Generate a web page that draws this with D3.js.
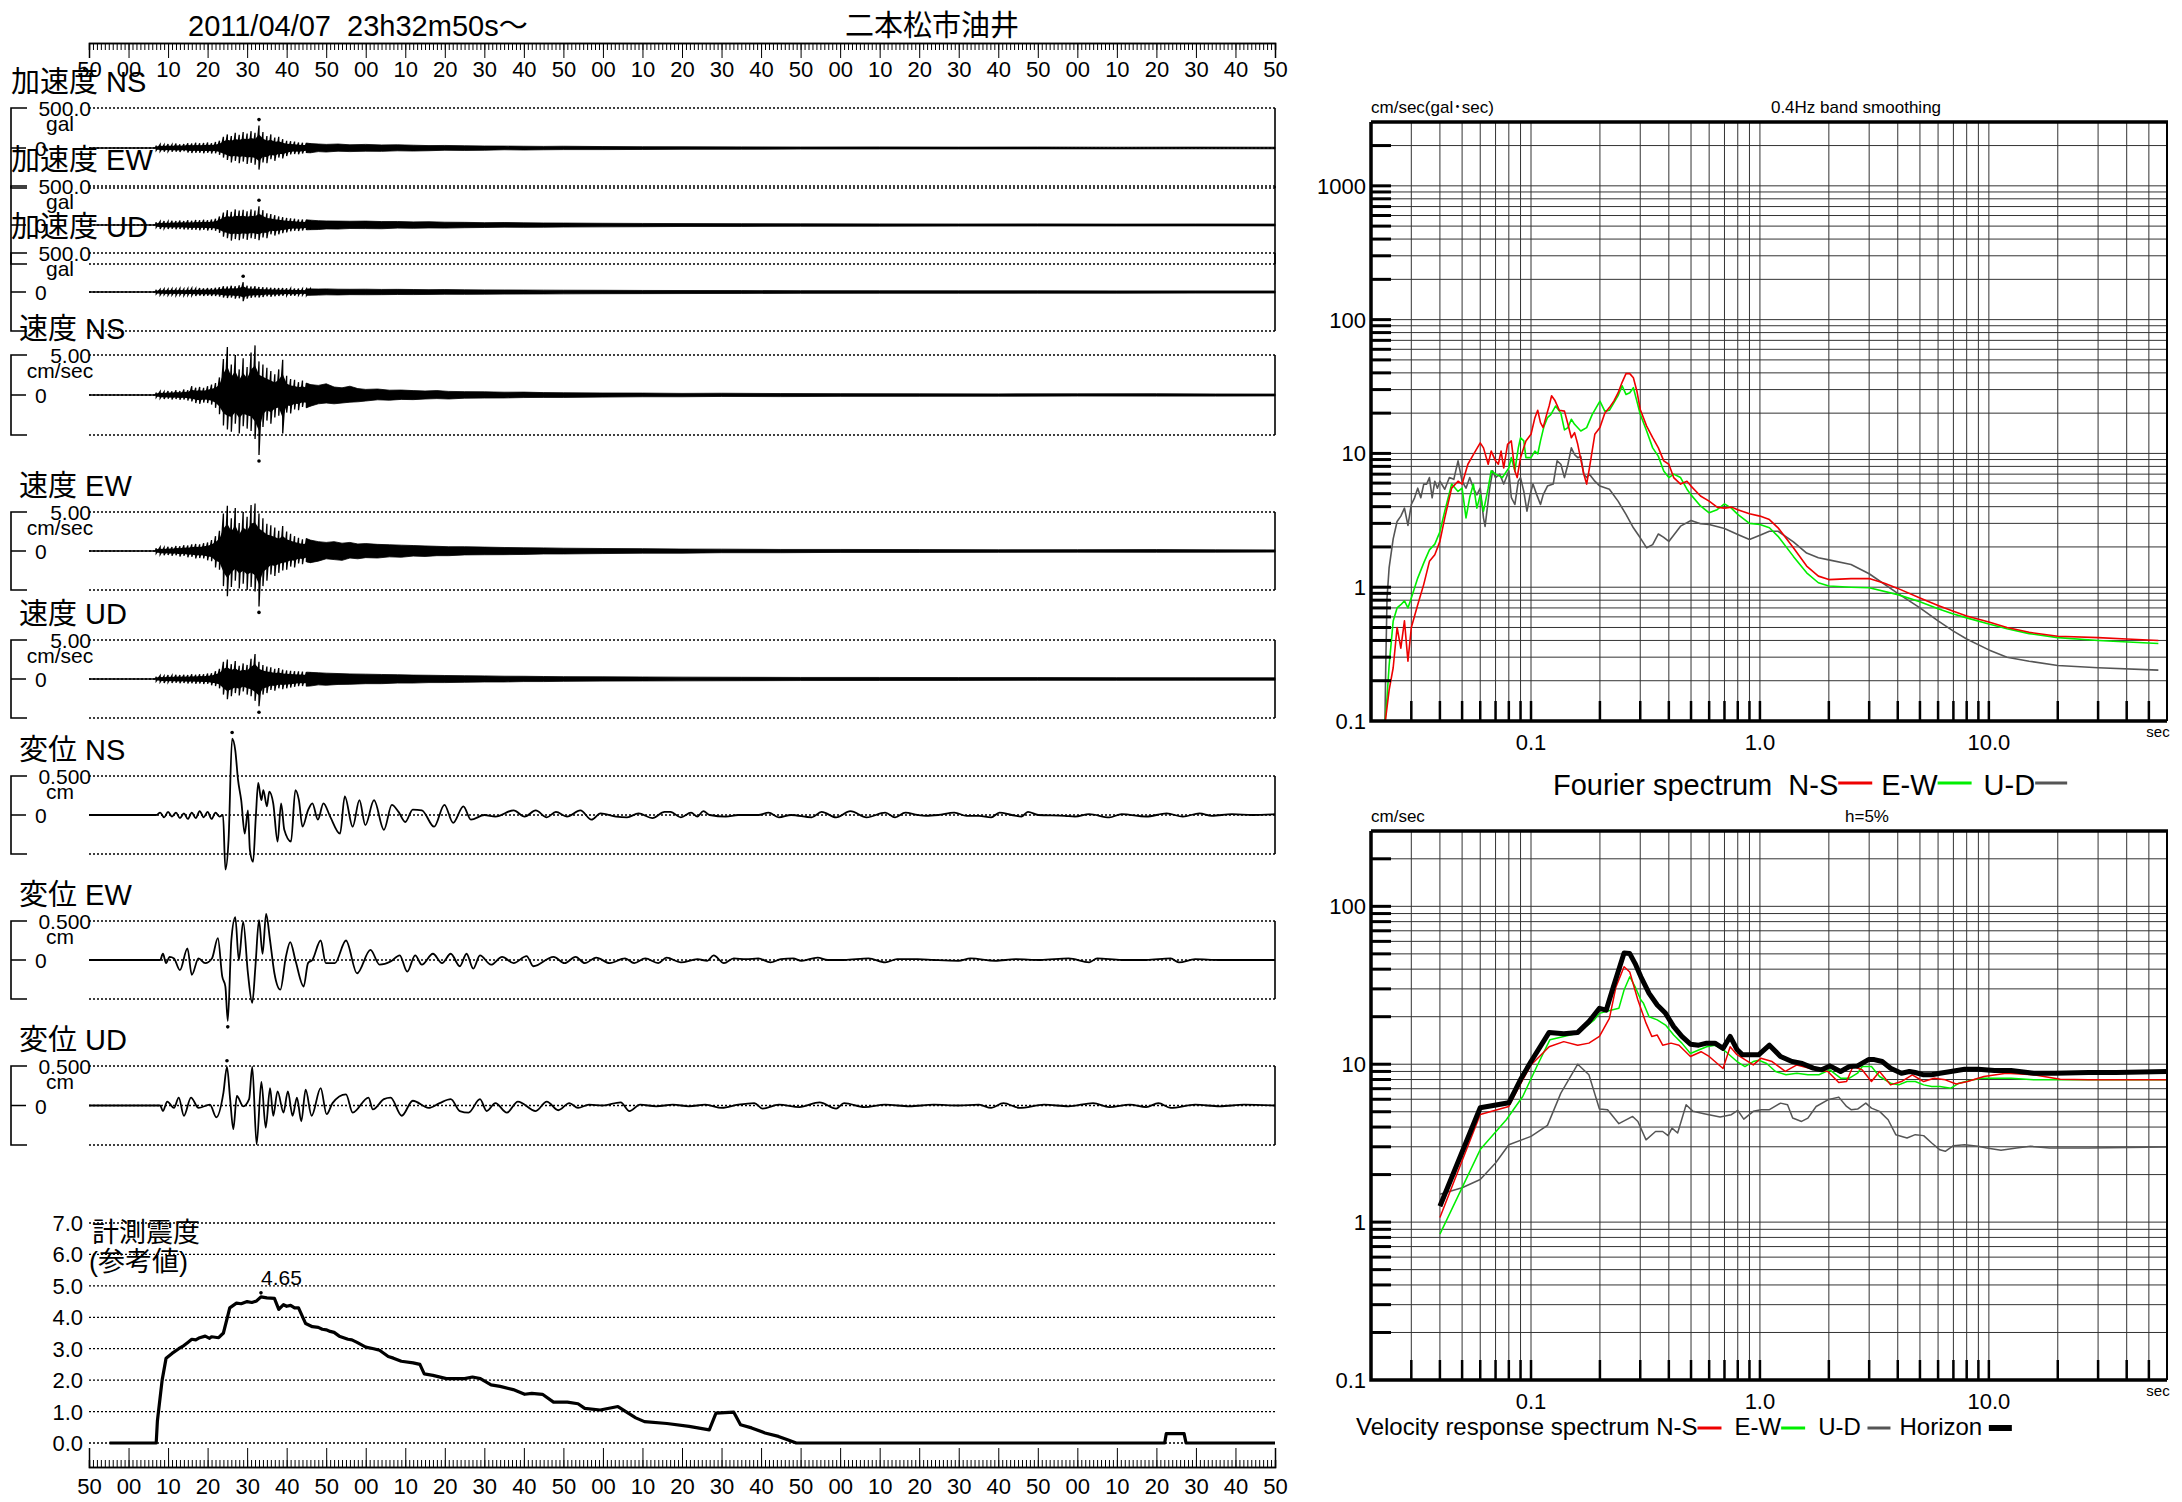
<!DOCTYPE html>
<html><head><meta charset="utf-8">
<script src="https://cdn.jsdelivr.net/npm/d3@7"></script>
<style>
html,body{margin:0;padding:0;background:#fff;}
svg text{font-family:"Liberation Sans",Arial,"Noto Sans CJK JP",sans-serif;fill:#000;white-space:pre;}
</style></head><body>
<svg id="chart" width="2182" height="1502"></svg>
<script>
// ---------------- DATA ----------------
const titleDate = "2011/04/07  23h32m50s\u301C";
const titleSite = "二本松市油井";
const timeTickValues = d3.range(0, 301, 10);
const timeTickLabels = ["50","00","10","20","30","40","50","00","10","20","30","40","50","00","10","20","30","40","50","00","10","20","30","40","50","00","10","20","30","40","50"];

// envelopes [t(sec), max, min]
const accNS = [[0,0,0],[16.8,0,0],[17,30,-30],[18,45,-40],[19,40,-45],[20,50,-42],[21,42,-48],[22,55,-45],[23,45,-50],[24,50,-40],[25,60,-55],[26,55,-62],[27,65,-58],[28,58,-60],[29,62,-65],[30,70,-60],[31,60,-68],[32,75,-65],[33,90,-85],[34,140,-120],[35,170,-150],[36,150,-180],[37,190,-160],[38,165,-190],[39,200,-170],[40,180,-200],[41,210,-185],[42,190,-210],[43,280,-270],[44,200,-180],[45,150,-190],[46,170,-140],[47,130,-160],[48,140,-120],[49,110,-130],[50,90,-100],[51,85,-80],[52,80,-75],[53,70,-78],[54,65,-70],[55,62,-58],[56,55,-60],[58,50,-45],[60,45,-50],[63,50,-40],[66,40,-45],[70,45,-40],[74,38,-42],[78,40,-35],[82,35,-38],[86,30,-34],[90,32,-28],[95,28,-30],[100,25,-28],[105,24,-22],[110,22,-25],[115,20,-22],[120,22,-20],[130,18,-20],[140,16,-18],[150,15,-16],[165,14,-15],[180,12,-13],[200,13,-12],[220,11,-12],[240,12,-11],[260,10,-11],[280,11,-10],[300,10,-10]];
const accEW = [[0,0,0],[16.8,0,0],[17,35,-30],[18,45,-50],[19,50,-45],[20,45,-52],[21,55,-48],[22,50,-55],[23,58,-50],[24,52,-56],[25,60,-58],[26,55,-62],[27,65,-60],[28,60,-66],[29,68,-60],[30,62,-70],[31,70,-65],[32,80,-75],[33,110,-100],[34,160,-150],[35,190,-170],[36,170,-200],[37,200,-180],[38,185,-195],[39,195,-175],[40,175,-190],[41,200,-170],[42,185,-180],[43,240,-195],[44,190,-160],[45,150,-170],[46,140,-120],[47,125,-135],[48,110,-120],[49,100,-105],[50,90,-95],[51,85,-80],[52,80,-75],[53,72,-78],[54,70,-72],[55,66,-62],[56,62,-60],[58,55,-58],[60,52,-50],[63,50,-52],[66,48,-45],[70,50,-46],[74,44,-48],[78,45,-40],[82,40,-42],[86,42,-38],[90,36,-40],[95,34,-35],[100,30,-32],[105,32,-28],[110,28,-30],[115,26,-28],[120,25,-26],[130,22,-24],[140,20,-22],[150,18,-19],[165,17,-18],[180,15,-16],[200,14,-15],[220,13,-14],[240,14,-13],[260,12,-13],[280,13,-12],[300,12,-12]];
const accUD = [[0,0,0],[16.8,0,0],[17,28,-25],[18,35,-38],[19,40,-35],[20,38,-42],[21,42,-38],[22,40,-44],[23,45,-40],[24,40,-45],[25,44,-42],[26,48,-45],[27,45,-50],[28,50,-46],[29,46,-50],[30,52,-48],[31,48,-52],[32,55,-50],[33,60,-58],[34,75,-70],[35,70,-78],[36,80,-72],[37,75,-85],[38,85,-80],[39,125,-118],[40,80,-85],[41,70,-75],[42,75,-68],[43,65,-70],[44,60,-65],[45,58,-55],[46,55,-60],[47,52,-55],[48,50,-52],[49,50,-48],[50,48,-45],[51,46,-48],[52,45,-48],[53,44,-42],[54,42,-40],[55,40,-43],[56,40,-42],[58,38,-40],[60,40,-36],[63,36,-38],[66,35,-34],[70,36,-35],[74,33,-34],[78,34,-32],[82,32,-33],[86,30,-31],[90,31,-29],[95,28,-30],[100,27,-28],[105,26,-27],[110,25,-26],[115,24,-25],[120,23,-24],[130,22,-22],[140,20,-21],[150,19,-20],[165,18,-18],[180,17,-17],[200,16,-16],[220,15,-16],[240,15,-15],[260,14,-15],[280,14,-14],[300,13,-13]];

const velNS = [[0,0,0],[16.8,0,0],[17,0.3,-0.3],[18,0.45,-0.4],[19,0.4,-0.5],[20,0.5,-0.45],[21,0.45,-0.55],[22,0.6,-0.5],[23,0.5,-0.6],[24,0.7,-0.55],[25,0.6,-0.7],[26,1.1,-0.8],[27,0.9,-1.0],[28,1.0,-1.1],[29,0.9,-0.95],[30,1.1,-1.0],[31,1.3,-1.2],[32,1.5,-1.6],[33,2.2,-2.4],[34,4.5,-3.8],[35,6.0,-4.3],[36,3.8,-4.6],[37,5.0,-3.6],[38,3.2,-4.8],[39,4.6,-3.9],[40,3.5,-4.2],[41,5.3,-4.5],[42,6.2,-5.5],[43,4.2,-7.5],[44,3.8,-4.0],[45,3.4,-3.2],[46,3.0,-3.6],[47,2.6,-2.8],[48,3.2,-2.6],[49,4.4,-4.8],[50,2.4,-2.2],[51,2.0,-2.3],[52,1.9,-1.8],[53,1.6,-1.9],[54,1.8,-1.5],[55,1.5,-1.6],[56,1.3,-1.4],[58,1.2,-1.1],[60,1.4,-1.0],[62,1.0,-1.1],[64,0.9,-1.0],[66,1.1,-0.9],[68,0.8,-0.85],[70,0.7,-0.75],[73,0.75,-0.6],[76,0.6,-0.65],[79,0.62,-0.55],[82,0.55,-0.58],[85,0.5,-0.5],[88,0.55,-0.45],[91,0.45,-0.5],[95,0.42,-0.4],[100,0.4,-0.38],[105,0.35,-0.37],[110,0.36,-0.32],[115,0.3,-0.3],[120,0.28,-0.3],[130,0.25,-0.26],[140,0.24,-0.22],[150,0.2,-0.22],[160,0.22,-0.18],[175,0.18,-0.2],[190,0.17,-0.17],[210,0.15,-0.16],[230,0.14,-0.15],[250,0.15,-0.13],[270,0.16,-0.14],[285,0.13,-0.14],[300,0.12,-0.12]];
const velEW = [[0,0,0],[16.8,0,0],[17,0.35,-0.3],[18,0.5,-0.45],[19,0.45,-0.55],[20,0.55,-0.5],[21,0.5,-0.6],[22,0.65,-0.55],[23,0.6,-0.7],[24,0.75,-0.6],[25,0.7,-0.8],[26,0.85,-0.75],[27,0.9,-0.95],[28,0.85,-0.9],[29,1.0,-0.95],[30,1.1,-1.2],[31,1.4,-1.3],[32,1.9,-2.1],[33,2.6,-2.4],[34,4.8,-4.5],[35,5.8,-5.8],[36,4.2,-4.6],[37,5.5,-3.8],[38,3.6,-4.8],[39,5.0,-4.2],[40,4.4,-5.0],[41,5.9,-4.6],[42,6.1,-5.2],[43,4.8,-7.1],[44,4.2,-4.5],[45,3.5,-3.8],[46,3.3,-3.0],[47,3.0,-3.2],[48,2.6,-2.8],[49,3.2,-2.5],[50,2.5,-2.4],[51,2.2,-2.0],[52,1.9,-2.1],[53,1.7,-1.6],[54,1.5,-1.7],[55,1.6,-1.4],[56,1.4,-1.5],[58,1.2,-1.3],[60,1.1,-1.0],[62,1.2,-1.1],[64,1.0,-1.2],[66,1.1,-0.9],[68,0.9,-1.0],[70,0.95,-0.85],[73,0.85,-0.9],[76,0.8,-0.75],[79,0.75,-0.8],[82,0.7,-0.65],[85,0.65,-0.7],[88,0.6,-0.6],[91,0.55,-0.6],[95,0.55,-0.5],[100,0.5,-0.48],[105,0.45,-0.47],[110,0.42,-0.44],[115,0.4,-0.38],[120,0.36,-0.38],[130,0.32,-0.33],[140,0.3,-0.28],[150,0.25,-0.28],[160,0.24,-0.22],[175,0.2,-0.22],[190,0.2,-0.18],[210,0.18,-0.18],[230,0.16,-0.17],[250,0.17,-0.15],[270,0.18,-0.16],[285,0.15,-0.15],[300,0.14,-0.14]];
const velUD = [[0,0,0],[16.8,0,0],[17,0.3,-0.28],[18,0.45,-0.4],[19,0.4,-0.5],[20,0.5,-0.42],[21,0.45,-0.5],[22,0.55,-0.48],[23,0.5,-0.55],[24,0.55,-0.5],[25,0.5,-0.58],[26,0.6,-0.55],[27,0.55,-0.6],[28,0.62,-0.58],[29,0.6,-0.65],[30,0.7,-0.62],[31,0.75,-0.8],[32,1.0,-0.9],[33,1.3,-1.2],[34,2.2,-2.0],[35,2.5,-2.6],[36,1.9,-2.2],[37,2.3,-1.8],[38,1.7,-2.1],[39,2.0,-1.6],[40,1.8,-2.0],[41,2.6,-2.2],[42,3.2,-2.8],[43,2.2,-3.5],[44,1.8,-2.0],[45,1.6,-1.8],[46,1.5,-1.4],[47,1.3,-1.5],[48,1.4,-1.2],[49,1.2,-1.3],[50,1.1,-1.2],[51,1.05,-1.1],[52,1.0,-1.0],[53,0.98,-0.92],[54,0.95,-0.9],[55,0.88,-0.92],[56,0.85,-0.9],[58,0.8,-0.75],[60,0.75,-0.8],[63,0.7,-0.7],[66,0.65,-0.68],[70,0.62,-0.6],[74,0.58,-0.6],[78,0.55,-0.52],[82,0.5,-0.52],[86,0.48,-0.46],[90,0.45,-0.46],[95,0.42,-0.42],[100,0.4,-0.38],[105,0.36,-0.38],[110,0.35,-0.33],[115,0.32,-0.33],[120,0.3,-0.3],[130,0.28,-0.27],[140,0.26,-0.25],[150,0.24,-0.24],[165,0.22,-0.22],[180,0.2,-0.2],[200,0.2,-0.19],[220,0.18,-0.18],[240,0.18,-0.17],[260,0.17,-0.17],[280,0.16,-0.16],[300,0.15,-0.15]];

// displacement [t(sec), cm]
const dispNS = [[0,0],[17,0],[18,0.03],[19,-0.03],[20,0.04],[21,-0.02],[22,0.03],[23,-0.04],[24,0.02],[25,-0.05],[26,0.03],[27,-0.04],[28,0.05],[29,-0.03],[30,0.04],[31,-0.05],[32,0.03],[33,-0.02],[33.9,0],[34.5,-0.70],[35.3,-0.32],[36.2,0.98],[37,0.83],[37.7,0.45],[38.5,0.19],[39.4,-0.24],[40.2,0.06],[40.7,-0.45],[41.5,-0.6],[42.2,-0.02],[42.8,0.41],[43.6,0.19],[44.1,0.32],[45,0.11],[45.6,0.3],[46.6,0.15],[47.7,-0.34],[48.6,0.15],[49.4,-0.19],[51.1,-0.34],[52.2,0.32],[53.1,0.19],[54,-0.15],[55.4,0.06],[56.5,0.15],[57.9,-0.06],[59.3,0.15],[61,-0.02],[63.5,-0.24],[64.7,0.24],[66.7,-0.15],[68.4,0.19],[69.9,-0.13],[72.1,0.19],[74.6,-0.19],[76.6,0.13],[78.3,0.04],[80,-0.09],[81.9,0.07],[84.2,0.06],[87.3,-0.15],[89.9,0.13],[92.1,-0.1],[94.7,0.11],[96.6,-0.06],[100,0],[102.8,-0.02],[107.4,0.06],[110.2,-0.02],[113,0.06],[115.8,-0.03],[118.1,0.04],[120.9,-0.02],[124.3,0.06],[127.1,-0.06],[129.4,0.02],[133.3,-0.02],[136.1,-0.03],[139,0.02],[142.5,-0.04],[145.6,0.04],[147.1,0.04],[149.7,-0.03],[152.3,0.03],[153.9,-0.02],[155.4,0.05],[157,0],[161.1,-0.02],[164.2,0],[169.3,0],[171.9,0.03],[174.5,-0.03],[177.6,0],[182.8,-0.03],[185.3,0.04],[189,-0.03],[192.6,0.05],[196.7,-0.03],[201.4,0.03],[203.9,-0.03],[206.5,0.03],[209.6,0],[211.7,-0.01],[214.8,0],[218.9,0.03],[222,-0.01],[225.1,-0.01],[228.2,-0.03],[230.3,0.03],[233.4,0],[235.9,-0.02],[237.5,0.04],[240.1,0],[246.8,-0.01],[249.4,-0.02],[253,0.01],[258.1,-0.03],[261.2,0.01],[267.4,-0.02],[272.6,0.02],[276.7,-0.02],[280.9,0.02],[284,-0.01],[289.1,0.01],[294.3,0],[300,0.01]];
const dispEW = [[0,0],[18,0],[18.7,0.08],[19.5,-0.04],[20.4,0.04],[21.5,0.02],[23,-0.13],[24.9,0.15],[26,-0.19],[27.7,0.02],[29.4,-0.04],[31.1,0.02],[32.6,0.28],[33.7,-0.21],[34.5,-0.34],[35.1,-0.78],[36,0.25],[37,0.55],[37.9,0],[39,0.49],[40.2,-0.17],[41.3,-0.55],[42.1,-0.08],[43,0.51],[43.9,0.08],[44.8,0.59],[45.8,0.25],[46.9,-0.17],[48.4,-0.38],[49.8,0.04],[50.9,0.23],[52.2,0],[54.3,-0.34],[55.4,-0.04],[56.5,0],[58.6,0.25],[59.9,-0.04],[62.2,-0.04],[65,0.25],[67.8,-0.17],[71.2,0.13],[73.5,-0.06],[76.3,-0.02],[78.6,0.06],[80.5,-0.15],[82.5,0.06],[84.2,-0.06],[87,0.08],[89.3,-0.04],[91.5,0.08],[93.8,-0.08],[95.5,0.08],[97.2,-0.11],[98.9,0.06],[101.7,-0.06],[104.5,0.04],[107.4,-0.04],[110.7,0.05],[112.4,-0.08],[117.5,0.04],[120.3,-0.04],[123.1,0.04],[125.4,-0.04],[128.3,0.03],[131.7,-0.04],[135.6,0.02],[137.9,-0.04],[140.7,0.02],[144,-0.04],[146.1,0.03],[149.7,-0.03],[153.9,0.01],[156.4,-0.01],[158,0.06],[160.6,-0.04],[163.1,0.02],[166.2,0.01],[169.3,0.02],[172.4,-0.03],[175,0.01],[178.1,0.02],[180.2,-0.01],[184.3,0.03],[186.9,0],[191,0],[197.2,0.02],[201.4,-0.03],[204.4,0.01],[209.6,0.01],[213.7,0],[219.9,-0.01],[223,0.02],[229.2,-0.01],[234.4,0.01],[240.6,0],[247.8,0.02],[253,-0.03],[255,0.02],[261.2,0],[267.4,0],[273.6,0.02],[275.7,-0.03],[279.8,0.01],[286,0],[292.2,0],[300,0]];
const dispUD = [[0,0],[18,0],[18.7,-0.07],[19.8,0.05],[21.5,-0.03],[22.7,0.1],[24,-0.13],[25.8,0.1],[27.7,-0.03],[30.6,0.01],[32.2,-0.15],[34,0.16],[34.9,0.49],[35.7,0.08],[36.5,-0.3],[37.4,0.12],[39,-0.01],[40.5,0.08],[41.3,0.49],[42.4,-0.49],[43.6,0.3],[44.7,-0.28],[45.8,0.22],[46.6,-0.13],[47.7,0.18],[49.2,-0.09],[50.3,0.18],[51.5,-0.13],[52.6,0.1],[53.7,-0.2],[54.8,0.2],[56.3,-0.13],[58.6,0.22],[60.1,-0.11],[61.6,0.03],[65,0.14],[66.7,-0.09],[70.7,0.1],[71.8,-0.05],[74.6,0.08],[76.3,0.1],[79.1,-0.13],[81.9,0.06],[85.9,-0.03],[88.7,0.03],[91.5,0.08],[93.8,-0.07],[96,-0.09],[98.9,0.08],[100.6,-0.07],[102.8,0.03],[105.7,-0.09],[108.5,0.05],[113,-0.07],[115.8,0.05],[118.7,-0.06],[121.5,0.03],[123.7,-0.03],[126.5,0.01],[129.9,0],[134.5,0.04],[136.7,-0.07],[139.4,0.01],[143.5,-0.01],[147.7,0.01],[151.8,-0.01],[155.9,0.01],[160.1,-0.03],[164.2,0.01],[168.3,0.03],[170.4,-0.04],[174.5,0.01],[179.7,-0.02],[184.8,0.04],[189,-0.04],[191,0.03],[196.2,-0.02],[201.4,0.01],[207.5,-0.01],[213.7,0.01],[219.9,0],[225.1,0.01],[228.2,-0.03],[231.3,0.03],[235.4,-0.03],[241.6,0.01],[247.8,-0.01],[254,0.03],[258.1,-0.02],[263.3,0.01],[267.4,-0.02],[270.5,0.03],[273.6,-0.03],[279.8,0.01],[286,-0.01],[292.2,0.01],[300,0]];

// instrumental seismic intensity [t(sec), value]
const intensity = [[5.2,0],[17.0,0],[17.3,0.7],[18.5,2.0],[19.5,2.7],[21,2.85],[22.7,3.0],[24,3.1],[25,3.2],[26,3.3],[27,3.28],[28,3.35],[29.4,3.4],[30.5,3.33],[31,3.38],[32.8,3.35],[34,3.5],[35,4.0],[35.6,4.3],[37.3,4.45],[38.5,4.43],[40,4.5],[41.2,4.47],[42.4,4.52],[43.5,4.65],[45,4.62],[46.9,4.6],[48,4.25],[49.2,4.4],[50,4.35],[51,4.38],[52,4.3],[53,4.3],[54.8,3.8],[56.5,3.7],[58,3.68],[59,3.62],[60,3.6],[61,3.55],[62,3.52],[63.3,3.4],[65.5,3.3],[66.5,3.28],[67.8,3.2],[70,3.05],[72,3.0],[73.5,2.95],[75.7,2.75],[77,2.7],[79,2.6],[82,2.55],[83.7,2.5],[84.8,2.2],[87,2.15],[90.4,2.05],[95,2.05],[97,2.1],[99,2.05],[101.7,1.85],[104,1.8],[107.3,1.7],[110.2,1.55],[112,1.58],[114.7,1.55],[117.5,1.3],[121,1.3],[123.7,1.25],[125.4,1.1],[129.3,1.05],[133.8,1.16],[138.3,0.8],[140.5,0.68],[146.2,0.62],[151.8,0.53],[156.9,0.42],[158.6,0.95],[163.1,0.98],[164.8,0.58],[167.6,0.48],[171,0.32],[174.4,0.21],[176.7,0.1],[178.9,0],[272.1,0],[272.5,0.3],[277,0.3],[277.5,0],[300,0]];
const intensityTickValues = [0,1,2,3,4,5,6,7];
const intensityTickLabels = ["0.0","1.0","2.0","3.0","4.0","5.0","6.0","7.0"];

// Fourier spectra [period(sec), cm/sec]
const fourierNS = [[0.023,0.094],[0.024,0.17],[0.025,0.25],[0.026,0.50],[0.027,0.35],[0.028,0.56],[0.029,0.28],[0.030,0.50],[0.032,0.74],[0.034,1.05],[0.036,1.56],[0.038,1.75],[0.040,2.2],[0.042,3.3],[0.045,5.5],[0.048,6.2],[0.050,5.9],[0.053,8.3],[0.056,9.8],[0.060,12],[0.062,11],[0.065,8.3],[0.067,10.4],[0.070,8.8],[0.072,8.3],[0.074,10.4],[0.076,7.8],[0.079,11.7],[0.082,12.4],[0.085,7.4],[0.087,6.6],[0.090,9.3],[0.095,12.4],[0.100,13.9],[0.104,18.5],[0.107,21],[0.110,17],[0.113,15.6],[0.117,19.5],[0.120,22.6],[0.123,27],[0.127,25],[0.133,21],[0.140,20.7],[0.145,16.5],[0.150,13.1],[0.155,14.3],[0.160,11.7],[0.170,7.0],[0.175,5.9],[0.180,7.8],[0.190,13.9],[0.200,15.6],[0.210,20],[0.220,22],[0.230,24.6],[0.240,28.3],[0.250,34],[0.260,39.5],[0.270,39.5],[0.280,36.8],[0.290,29.3],[0.300,21.3],[0.320,16],[0.340,13.1],[0.360,11],[0.380,8.8],[0.400,8.3],[0.420,6.6],[0.450,5.9],[0.480,6.2],[0.500,5.7],[0.550,4.8],[0.600,4.4],[0.650,3.97],[0.700,3.9],[0.750,3.97],[0.800,3.8],[0.900,3.54],[1.0,3.4],[1.1,3.2],[1.2,2.78],[1.4,1.97],[1.6,1.44],[1.8,1.21],[2.0,1.14],[2.5,1.16],[3.0,1.16],[3.5,1.07],[4,0.98],[5,0.83],[6,0.73],[7,0.66],[8,0.61],[10,0.55],[12,0.50],[15,0.46],[20,0.43],[30,0.42],[40,0.41],[55,0.40]];
const fourierEW = [[0.023,0.094],[0.0235,0.15],[0.024,0.26],[0.025,0.56],[0.026,0.70],[0.027,0.74],[0.028,0.79],[0.029,0.70],[0.030,0.83],[0.032,1.17],[0.034,1.52],[0.036,1.9],[0.038,2.1],[0.040,2.6],[0.042,3.7],[0.045,5.9],[0.048,5.2],[0.050,5.5],[0.052,3.3],[0.054,4.7],[0.056,5.9],[0.058,3.9],[0.060,4.9],[0.062,3.7],[0.065,5.5],[0.067,7.4],[0.070,7.0],[0.075,6.6],[0.080,7.8],[0.082,9.3],[0.085,7.4],[0.088,11],[0.090,13.1],[0.093,12.4],[0.095,9.3],[0.100,9.3],[0.104,10.4],[0.107,9.9],[0.110,12.4],[0.114,16],[0.118,18.5],[0.122,19.5],[0.128,22.6],[0.135,20],[0.140,15],[0.145,15.6],[0.150,18],[0.155,16.5],[0.165,14.7],[0.175,15.6],[0.185,19.5],[0.200,24.6],[0.210,20.7],[0.220,21],[0.230,23.9],[0.240,27],[0.250,32],[0.260,27.6],[0.270,28.4],[0.280,31],[0.290,24.6],[0.300,19.6],[0.320,14.7],[0.340,11],[0.360,9.5],[0.380,7.4],[0.400,6.6],[0.420,7.0],[0.450,6.6],[0.480,5.4],[0.500,4.9],[0.550,4.05],[0.600,3.6],[0.650,3.8],[0.700,4.2],[0.750,3.9],[0.800,3.5],[0.900,3.0],[1.0,2.94],[1.1,2.78],[1.2,2.4],[1.4,1.7],[1.6,1.28],[1.8,1.08],[2.0,1.02],[2.5,1.0],[3.0,0.99],[4,0.88],[5,0.78],[6,0.69],[7,0.63],[8,0.59],[10,0.53],[12,0.49],[15,0.45],[20,0.42],[30,0.40],[55,0.38]];
const fourierUD = [[0.023,0.094],[0.0232,0.26],[0.0235,0.83],[0.024,1.4],[0.025,2.3],[0.026,3.1],[0.027,3.4],[0.028,3.9],[0.029,2.9],[0.030,4.15],[0.031,4.66],[0.032,5.5],[0.033,4.66],[0.034,5.9],[0.035,5.9],[0.036,6.6],[0.037,4.66],[0.038,6.2],[0.039,5.5],[0.040,6.2],[0.042,5.4],[0.044,6.6],[0.046,6.4],[0.048,8.8],[0.050,6.2],[0.052,5.5],[0.054,6.6],[0.056,5.5],[0.058,4.9],[0.060,5.5],[0.062,3.3],[0.063,2.85],[0.066,5.5],[0.068,7.4],[0.070,6.6],[0.073,7.0],[0.076,5.9],[0.078,6.6],[0.080,7.4],[0.082,4.7],[0.085,4.15],[0.088,6.2],[0.090,6.6],[0.093,5.2],[0.096,3.7],[0.099,4.9],[0.102,5.9],[0.106,4.9],[0.110,4.15],[0.113,4.9],[0.118,5.7],[0.125,5.9],[0.130,8.8],[0.135,8.3],[0.140,6.6],[0.145,8.3],[0.150,11],[0.155,9.8],[0.160,9.3],[0.165,9.5],[0.170,7.0],[0.175,6.6],[0.180,7.0],[0.190,6.2],[0.200,5.7],[0.220,5.4],[0.240,4.4],[0.260,3.5],[0.280,2.78],[0.300,2.34],[0.320,1.97],[0.340,2.08],[0.360,2.5],[0.380,2.36],[0.400,2.2],[0.450,2.86],[0.500,3.15],[0.550,2.98],[0.600,2.94],[0.700,2.75],[0.800,2.48],[0.900,2.27],[1.0,2.45],[1.1,2.62],[1.2,2.62],[1.4,2.18],[1.6,1.8],[1.8,1.66],[2.0,1.6],[2.5,1.48],[3,1.26],[4,0.9],[5,0.7],[6,0.56],[7,0.47],[8,0.41],[10,0.34],[12,0.30],[15,0.28],[20,0.26],[30,0.25],[55,0.24]];

// velocity response spectra (h=5%) [period(sec), cm/sec]
const responseNS = [[0.04,1.07],[0.06,4.8],[0.08,5.4],[0.09,7.5],[0.1,9.9],[0.12,12.9],[0.139,13.9],[0.16,13.2],[0.179,13.6],[0.199,15.0],[0.22,19.5],[0.235,30.9],[0.255,41.4],[0.27,38.4],[0.293,25.5],[0.318,18.2],[0.337,15.0],[0.356,15.3],[0.376,13.2],[0.409,13.6],[0.443,13.2],[0.497,11.2],[0.553,12.0],[0.6,11.2],[0.69,9.4],[0.741,12.9],[0.794,11.5],[0.935,9.9],[1.01,10.9],[1.13,10.4],[1.29,9.0],[1.45,9.9],[1.71,9.3],[1.98,9.0],[2.21,7.66],[2.39,7.77],[2.55,9.7],[2.8,9.2],[3.07,7.77],[3.33,9.0],[3.72,7.4],[4.15,7.77],[4.63,8.57],[5.19,7.77],[5.77,8.16],[6.45,7.96],[7.2,7.5],[8.07,7.77],[9.52,8.36],[11.9,8.77],[15.7,8.57],[20.5,8.04],[27.3,7.96],[60,7.96]];
const responseEW = [[0.04,0.84],[0.06,2.88],[0.078,4.45],[0.092,6.25],[0.106,9.67],[0.121,14.3],[0.139,15.0],[0.16,15.7],[0.189,19.1],[0.199,21.0],[0.223,22.0],[0.242,22.6],[0.255,29.5],[0.27,35.8],[0.285,30.9],[0.302,25.5],[0.31,24.3],[0.328,20.0],[0.356,19.1],[0.387,17.7],[0.42,15.3],[0.456,13.6],[0.497,11.7],[0.54,12.3],[0.585,12.9],[0.636,13.2],[0.71,12.0],[0.794,10.4],[0.86,9.67],[0.935,10.4],[0.989,10.6],[1.07,10.1],[1.17,9.0],[1.30,8.57],[1.45,8.77],[1.62,8.57],[1.81,8.57],[2.02,9.21],[2.25,8.16],[2.46,8.16],[2.67,8.77],[2.8,9.67],[3.07,9.67],[3.33,8.36],[3.72,7.58],[4.04,7.4],[4.39,7.77],[4.77,7.77],[5.19,7.4],[5.63,7.23],[6.11,7.23],[6.82,7.05],[7.41,7.58],[8.27,7.88],[9.26,8.16],[10.6,8.16],[12.5,8.16],[15.7,7.96],[27.3,7.96],[60,7.96]];
const responseUD = [[0.04,1.5],[0.05,1.65],[0.06,1.86],[0.07,2.37],[0.08,3.09],[0.1,3.49],[0.118,4.1],[0.135,6.56],[0.16,10.0],[0.179,8.57],[0.199,5.2],[0.216,5.15],[0.242,4.2],[0.278,4.67],[0.293,4.34],[0.318,3.32],[0.35,3.75],[0.376,3.75],[0.397,3.53],[0.413,3.94],[0.437,3.67],[0.476,5.54],[0.51,5.03],[0.57,4.86],[0.67,4.63],[0.75,4.79],[0.8,5.1],[0.85,4.49],[0.935,5.03],[1.01,5.15],[1.1,5.15],[1.23,5.67],[1.32,5.54],[1.39,4.56],[1.52,4.34],[1.62,4.56],[1.76,5.4],[1.98,5.95],[2.21,6.19],[2.39,5.4],[2.5,5.15],[2.67,5.2],[2.9,5.67],[3.07,5.27],[3.33,5.03],[3.63,4.45],[3.92,3.58],[4.39,3.41],[4.77,3.58],[5.19,3.53],[5.63,3.17],[6.11,2.87],[6.45,2.81],[7.0,3.05],[7.84,3.09],[8.97,3.02],[9.8,2.95],[11.3,2.85],[13.2,2.95],[15.2,3.02],[18.4,2.95],[27.3,2.95],[60,2.99]];
const responseH = [[0.04,1.26],[0.06,5.3],[0.08,5.7],[0.09,8.0],[0.1,10.4],[0.12,15.9],[0.139,15.6],[0.16,15.9],[0.179,18.6],[0.199,22.6],[0.213,22.0],[0.229,30.9],[0.255,50.7],[0.27,50.2],[0.285,43.4],[0.302,35.8],[0.328,28.1],[0.356,23.7],[0.387,21.0],[0.42,17.3],[0.456,15.0],[0.497,13.4],[0.54,13.2],[0.585,13.6],[0.636,13.6],[0.69,12.6],[0.741,15.0],[0.794,12.4],[0.837,11.5],[0.91,11.5],[0.989,11.5],[1.10,13.2],[1.23,11.2],[1.38,10.4],[1.53,10.1],[1.71,9.44],[1.86,9.21],[2.02,9.76],[2.25,9.0],[2.46,9.67],[2.67,9.76],[2.98,10.7],[3.16,10.7],[3.42,10.4],[3.72,9.44],[4.15,8.77],[4.5,9.0],[4.77,8.86],[5.19,8.57],[5.63,8.57],[6.11,8.77],[6.82,9.0],[7.84,9.3],[8.97,9.3],[10.6,9.12],[12.5,9.12],[15.7,8.77],[19.4,8.77],[27.3,8.86],[36,8.86],[60,9.0]];

const periodTickValues = [0.1, 1, 10];
const periodTickLabels = ["0.1", "1.0", "10.0"];
const fourierYTickValues = [0.1, 1, 10, 100, 1000];
const fourierYTickLabels = ["0.1", "1", "10", "100", "1000"];
const responseYTickValues = [0.1, 1, 10, 100];
const responseYTickLabels = ["0.1", "1", "10", "100"];

// ---------------- DRAWING ----------------
const svg = d3.select('#chart');
function txt(g, x, y, s, size, anchor){
  return g.append('text').attr('x', x).attr('y', y).attr('font-size', size)
    .attr('text-anchor', anchor || 'start').text(s);
}
function hline(g, x1, x2, y, w, dash, col){
  const l = g.append('line').attr('x1', x1).attr('x2', x2).attr('y1', y).attr('y2', y)
    .attr('stroke', col || '#000').attr('stroke-width', w);
  if (dash) l.attr('stroke-dasharray', dash);
  return l;
}

const tX = d3.scaleLinear().domain([0, 300]).range([89, 1275]);

// titles
txt(svg, 188, 36, titleDate, 29);
txt(svg, 932, 36, titleSite, 29, 'middle');

// top ruler
function styleAxis(g, size){
  g.selectAll('text').attr('font-size', size).attr('font-family', '"Liberation Sans",Arial,sans-serif').attr('fill', '#000');
  g.selectAll('line').attr('stroke', '#000');
  g.select('.domain').attr('stroke', '#000').attr('stroke-width', 1.5);
}
const topMinor = svg.append('g').attr('transform', 'translate(0,43)')
  .call(d3.axisBottom(tX).tickValues(d3.range(0, 301, 1)).tickSize(7).tickFormat(''));
styleAxis(topMinor, 0);
const topMajor = svg.append('g').attr('transform', 'translate(0,43)')
  .call(d3.axisBottom(tX).tickValues(timeTickValues).tickSize(15).tickPadding(3)
    .tickFormat((d, i) => timeTickLabels[i]));
styleAxis(topMajor, 22);

// waveform panels
const panels = [
  {name:'加速度 NS', lx:11, top:108, bottom:188, max:500, maxLabel:'500.0', unit:'gal', data:accNS, kind:'env'},
  {name:'加速度 EW', lx:11, top:186, bottom:264, max:500, maxLabel:'500.0', unit:'gal', data:accEW, kind:'env'},
  {name:'加速度 UD', lx:11, top:253, bottom:331, max:500, maxLabel:'500.0', unit:'gal', data:accUD, kind:'env'},
  {name:'速度 NS', lx:19, top:355, bottom:435, max:5, maxLabel:'5.00', unit:'cm/sec', data:velNS, kind:'env'},
  {name:'速度 EW', lx:19, top:512, bottom:590, max:5, maxLabel:'5.00', unit:'cm/sec', data:velEW, kind:'env'},
  {name:'速度 UD', lx:19, top:640, bottom:718, max:5, maxLabel:'5.00', unit:'cm/sec', data:velUD, kind:'env'},
  {name:'変位 NS', lx:19, top:776, bottom:854, max:0.5, maxLabel:'0.500', unit:'cm', data:dispNS, kind:'line'},
  {name:'変位 EW', lx:19, top:921, bottom:999, max:0.5, maxLabel:'0.500', unit:'cm', data:dispEW, kind:'line'},
  {name:'変位 UD', lx:19, top:1066, bottom:1145, max:0.5, maxLabel:'0.500', unit:'cm', data:dispUD, kind:'line'}
];

const gFrames = svg.append('g');
const gTraces = svg.append('g');
const gLabels = svg.append('g');

panels.forEach(p => {
  const y = d3.scaleLinear().domain([-p.max, p.max]).range([p.bottom, p.top]);
  [p.max, 0, -p.max].forEach(v => hline(gFrames, tX(0), tX(300), y(v), 1.3, '2,2'));
  gFrames.append('path')
    .attr('d', `M27,${y(p.max)}H11V${y(-p.max)}H27M11,${y(0)}H26`)
    .attr('fill', 'none').attr('stroke', '#000').attr('stroke-width', 1.6);
  gFrames.append('line').attr('x1', tX(300)).attr('x2', tX(300)).attr('y1', y(p.max)).attr('y2', y(-p.max))
    .attr('stroke', '#000').attr('stroke-width', 1.6);

  if (p.kind === 'env') {
    // dense part: min/max bars joined (decimated seismogram rendering)
    const dense = p.data.filter(d => d[0] <= 56);
    const pts = dense.flatMap(d => [[d[0], d[1]], [d[0], d[2]]]);
    gTraces.append('path').datum(pts)
      .attr('d', d3.line().x(d => tX(d[0])).y(d => y(d[1])))
      .attr('fill', 'none').attr('stroke', '#000').attr('stroke-width', 1.3);
    gTraces.append('path').datum(dense)
      .attr('d', d3.area().x(d => tX(d[0])).y0(d => y(d[2] * 0.6)).y1(d => y(d[1] * 0.6)))
      .attr('fill', '#000');
    // quieter part: envelope band
    const quiet = p.data.filter(d => d[0] >= 55);
    gTraces.append('path').datum(quiet)
      .attr('d', d3.area().x(d => tX(d[0])).y0(d => y(d[2])).y1(d => y(d[1])))
      .attr('fill', '#000').attr('stroke', '#000').attr('stroke-width', 0.8);
  } else {
    gTraces.append('path').datum(p.data)
      .attr('d', d3.line().curve(d3.curveMonotoneX).x(d => tX(d[0])).y(d => y(d[1])))
      .attr('fill', 'none').attr('stroke', '#000').attr('stroke-width', 1.8).attr('stroke-linejoin', 'round');
  }
  let best = null;
  p.data.forEach(d => {
    const vals = p.kind === 'line' ? [d[1]] : [d[1], d[2]];
    vals.forEach(v => { if (!best || Math.abs(v) > Math.abs(best[1])) best = [d[0], v]; });
  });
  gTraces.append('circle').attr('cx', tX(best[0])).attr('cy', y(best[1]) + (best[1] > 0 ? -6 : 6))
    .attr('r', 1.8).attr('fill', '#000');

  txt(gLabels, p.lx, p.top - 16, p.name, 29);
  txt(gLabels, 91, y(p.max) + 8, p.maxLabel, 21, 'end');
  txt(gLabels, 60, y(p.max) + 23, p.unit, 21, 'middle');
  txt(gLabels, 35, y(0) + 8, '0', 21);
});

// intensity panel
const yI = d3.scaleLinear().domain([0, 7]).range([1443, 1223]);
const gI = svg.append('g');
intensityTickValues.forEach((v, i) => {
  hline(gI, tX(0), tX(300), yI(v), 1.3, '2,2');
  txt(gI, 83, yI(v) + 8, intensityTickLabels[i], 22, 'end');
});
gI.append('path').datum(intensity)
  .attr('d', d3.line().x(d => tX(d[0])).y(d => yI(d[1])))
  .attr('fill', 'none').attr('stroke', '#000').attr('stroke-width', 3.2).attr('stroke-linejoin', 'round');
const iMax = intensity.reduce((a, b) => b[1] > a[1] ? b : a);
gI.append('circle').attr('cx', tX(iMax[0])).attr('cy', yI(iMax[1]) - 4).attr('r', 1.8).attr('fill', '#000');
txt(gI, tX(iMax[0]), yI(iMax[1]) - 12, iMax[1].toFixed(2), 21);
txt(gI, 92, 1242, '計測震度', 27);
txt(gI, 89, 1271, '(参考値)', 27);

// bottom ruler
const botMinor = svg.append('g').attr('transform', 'translate(0,1467)')
  .call(d3.axisTop(tX).tickValues(d3.range(0, 301, 1)).tickSize(7).tickFormat(''));
styleAxis(botMinor, 0);
const botMajor = svg.append('g').attr('transform', 'translate(0,1467)')
  .call(d3.axisTop(tX).tickValues(timeTickValues).tickSize(19).tickFormat(''));
styleAxis(botMajor, 0);
const botLabels = svg.append('g').attr('transform', 'translate(0,1467)')
  .call(d3.axisBottom(tX).tickValues(timeTickValues).tickSize(0).tickPadding(11)
    .tickFormat((d, i) => timeTickLabels[i]));
styleAxis(botLabels, 22);
botLabels.select('.domain').remove();

// ---------------- spectra ----------------
function logPanel(o){
  const x = d3.scaleLog().domain([0.02, 60]).range([1371, 2167]);
  const y = d3.scaleLog().domain(o.yDomain).range([o.bottom, o.top]);
  const g = svg.append('g');
  const xt = x.ticks().filter(v => v > 0.0201 && v < 59.9);
  const yt = y.ticks().filter(v => v > o.yDomain[0] * 1.001 && v < o.yDomain[1] * 0.999);
  xt.forEach(v => g.append('line').attr('x1', x(v)).attr('x2', x(v)).attr('y1', o.top).attr('y2', o.bottom)
    .attr('stroke', '#333').attr('stroke-width', 1));
  yt.forEach(v => hline(g, 1371, 2167, y(v), 1, null, '#333'));
  const clipId = 'clip' + o.top;
  svg.append('clipPath').attr('id', clipId).append('rect')
    .attr('x', 1371).attr('y', o.top).attr('width', 796).attr('height', o.bottom - o.top);
  const gc = g.append('g').attr('clip-path', `url(#${clipId})`);
  const line = d3.line().x(d => x(d[0])).y(d => y(d[1]));
  o.series.forEach(s => gc.append('path').datum(s.data).attr('d', line)
    .attr('fill', 'none').attr('stroke', s.color).attr('stroke-width', s.width).attr('stroke-linejoin', 'round'));
  yt.forEach(v => hline(g, 1371, 1391, y(v), 3));
  xt.forEach(v => g.append('line').attr('x1', x(v)).attr('x2', x(v)).attr('y1', o.bottom - 20).attr('y2', o.bottom)
    .attr('stroke', '#000').attr('stroke-width', 2.5));
  g.append('path').attr('d', `M1371,${o.top}V${o.bottom}H2167`).attr('fill', 'none').attr('stroke', '#000').attr('stroke-width', 3.5);
  hline(g, 1371, 2168, o.top, 3.5);
  g.append('line').attr('x1', 2167).attr('x2', 2167).attr('y1', o.top).attr('y2', o.bottom).attr('stroke', '#000').attr('stroke-width', 2);
  o.yTicks.forEach((v, i) => txt(g, 1366, y(v) + 8, o.yLabels[i], 22, 'end'));
  periodTickValues.forEach((v, i) => txt(g, x(v), o.bottom + 29, periodTickLabels[i], 22, 'middle'));
  txt(g, 2158, o.bottom + 16, 'sec', 15, 'middle');
  txt(g, 1371, o.top - 9, o.unit, 17);
  txt(g, o.noteX, o.top - 9, o.note, 17, 'middle');
  return g;
}

logPanel({top:122, bottom:721, yDomain:[0.1, 3000], yTicks:fourierYTickValues, yLabels:fourierYTickLabels,
  unit:'cm/sec(gal･sec)', note:'0.4Hz band smoothing', noteX:1856,
  series:[{data:fourierUD, color:'#555', width:1.6},{data:fourierEW, color:'#00ee00', width:1.6},{data:fourierNS, color:'#ee0000', width:1.6}]});

logPanel({top:831, bottom:1380, yDomain:[0.1, 300], yTicks:responseYTickValues, yLabels:responseYTickLabels,
  unit:'cm/sec', note:'h=5%', noteX:1867,
  series:[{data:responseUD, color:'#555', width:1.5},{data:responseEW, color:'#00ee00', width:1.5},{data:responseNS, color:'#ee0000', width:1.5},{data:responseH, color:'#000', width:5}]});

// legends
function legend(items, x0, yBase, size, lineY){
  const g = svg.append('g');
  let x = x0;
  items.forEach(it => {
    const t = txt(g, x, yBase, it.text, size);
    x += t.node().getComputedTextLength();
    if (it.color) {
      hline(g, x, x + it.len, lineY, it.w, null, it.color);
      x += it.len + it.gap;
    }
  });
}
legend([{text:'Fourier spectrum  N-S', color:'#ee0000', len:34, w:3, gap:9},
        {text:'E-W', color:'#00ee00', len:34, w:3, gap:12},
        {text:'U-D', color:'#555', len:32, w:3, gap:0}], 1553, 795, 29, 783);
legend([{text:'Velocity response spectrum N-S', color:'#ee0000', len:24, w:3, gap:13},
        {text:'E-W', color:'#00ee00', len:24, w:3, gap:13},
        {text:'U-D ', color:'#555', len:23, w:3, gap:9},
        {text:'Horizon ', color:'#000', len:23, w:6, gap:0}], 1356, 1435, 24, 1428);
</script>
</body></html>
